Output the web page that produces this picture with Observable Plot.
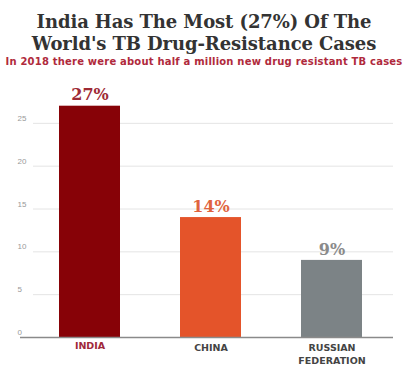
<!DOCTYPE html>
<html>
<head>
<meta charset="utf-8">
<script src="https://cdn.jsdelivr.net/npm/d3@7"></script>
<script src="https://cdn.jsdelivr.net/npm/@observablehq/plot@0.6"></script>
<style>
  html, body { margin: 0; padding: 0; background: #fff; }
  #wrap { width: 408px; height: 365px; overflow: hidden; position: relative; }
  .title { font-family: "DejaVu Serif", serif; font-weight: bold; font-size: 18px; line-height: 22px; color: #333; text-align: center; padding-top: 11px; letter-spacing: -0.1px; }
  .subtitle { font-family: "DejaVu Sans", sans-serif; font-weight: bold; font-size: 10px; line-height: 13px; color: #b02a3c; text-align: center; white-space: nowrap; letter-spacing: 0.2px; }
  svg { display: block; }
</style>
</head>
<body>
<div id="wrap">
  <div class="title">India Has The Most (27%) Of The<br>World's TB Drug-Resistance Cases</div>
  <div class="subtitle">In 2018 there were about half a million new drug resistant TB cases</div>
  <div id="chart"></div>
</div>
<script>
const countries = ["INDIA", "CHINA", "RUSSIAN FEDERATION"];
const tickLabels = ["INDIA", "CHINA", "RUSSIAN\nFEDERATION"];
const shares = [27, 14, 9];
const valueLabels = ["27%", "14%", "9%"];
const barColors = ["#870207", "#e4542a", "#7c8386"];
const labelColors = ["#9e2a35", "#e0633e", "#8a8a8a"];
const yTicks = [0, 5, 10, 15, 20, 25];

const data = countries.map((c, i) => ({country: c, value: shares[i], label: valueLabels[i]}));

const axisFont = "DejaVu Sans, sans-serif";
const chart = Plot.plot({
  width: 408,
  height: 297,
  marginLeft: 20,
  marginRight: 15,
  marginTop: 12,
  marginBottom: 28,
  style: {background: "#fff"},
  x: {domain: countries, paddingInner: 0.5, paddingOuter: 0.279, align: 0.56, label: null},
  y: {domain: [0, 30], label: null},
  color: {domain: countries, range: barColors},
  marks: [
    Plot.ruleY(yTicks.filter(d => d > 0), {stroke: "#e4e4e4", insetLeft: 13}),
    Plot.axisY(yTicks, {tickSize: 0, tickPadding: 3, textAnchor: "start", dy: -5, fill: "#999", fontSize: 8, fontFamily: "Liberation Sans, Arial, sans-serif", label: null}),
    Plot.barY(data, {x: "country", y: "value", fill: "country"}),
    Plot.ruleY([0], {stroke: "#8a8a8a", strokeWidth: 1.5}),
    Plot.axisX([countries[0]], {tickSize: 0, tickPadding: 5, fill: "#a0283a", fontSize: 9.5, fontWeight: "bold", fontFamily: axisFont, tickFormat: d => tickLabels[countries.indexOf(d)], label: null}),
    Plot.axisX(countries.slice(1), {tickSize: 0, tickPadding: 5, fill: "#444", fontSize: 9.5, fontWeight: "bold", fontFamily: axisFont, lineHeight: 1.3, tickFormat: d => tickLabels[countries.indexOf(d)], label: null}),
    ...data.map((d, i) => Plot.text([d], {x: "country", y: "value", text: "label", dy: -11, fill: labelColors[i], fontSize: 16, fontWeight: "bold", fontFamily: "DejaVu Serif, serif"}))
  ]
});
document.getElementById("chart").appendChild(chart);
</script>
</body>
</html>
